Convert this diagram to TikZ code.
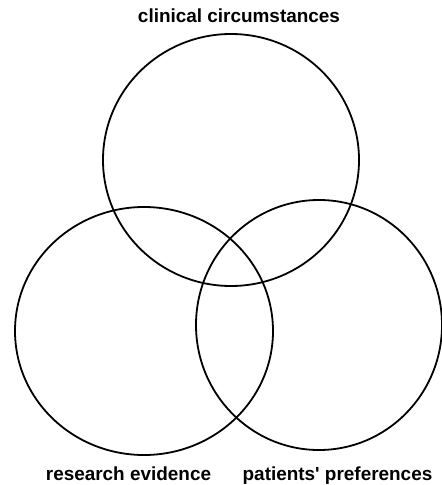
\documentclass[tikz,border=0pt]{standalone}
\usepackage{fontspec}
\setmainfont{Liberation Sans}
\usetikzlibrary{positioning}
\tikzset{ring/.style={draw,line width=1.8bp}  }
\tikzset{lab/.style={font=\fontsize{19}{21}\selectfont\bfseries,inner sep=0pt,anchor=base}  }

\begin{document}
\begin{tikzpicture}[x=1bp,y=-1bp]
	\useasboundingbox (0,0) rectangle (442,485);
		\coordinate (clin) at (231,160);
			\coordinate (res) at (144,331);
			\coordinate (pat) at (319,325);

			\draw[ring] (clin) ellipse [x radius=128,y radius=126];
			\draw[ring] (res) ellipse [x radius=129,y radius=124];
			\draw[ring] (pat) ellipse [x radius=123,y radius=125];

				\node[lab] (tclin) at (239,23) {clinical circumstances};
				\node[lab] (tres) at (128.5,480) {research evidence};
				\node[lab] (tpat) at (337.5,480) {patients\textquotesingle{} preferences};
	\end{tikzpicture}
\end{document}
